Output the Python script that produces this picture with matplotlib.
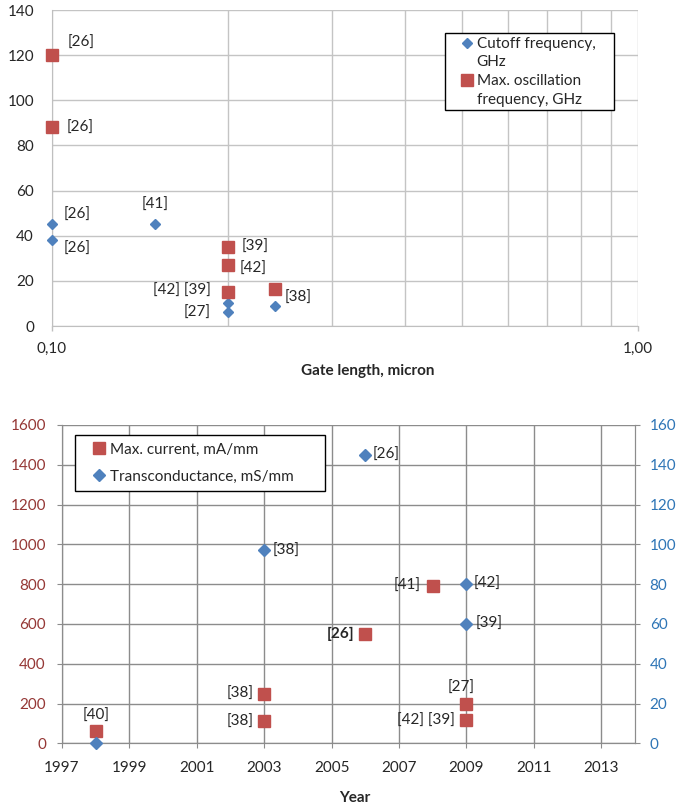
import matplotlib
matplotlib.use("Agg")
import matplotlib.pyplot as plt
from matplotlib.lines import Line2D
from matplotlib.ticker import FixedLocator, FuncFormatter, NullFormatter

plt.rcParams['font.family'] = ['Lato', 'DejaVu Sans']

# ---------------- data: top chart ----------------
fT_gate = [0.10, 0.10, 0.15, 0.20, 0.20, 0.24]
fT_vals = [45, 38, 45, 10, 6, 9]
fT_refs = ['[26]', '[26]', '[41]', '', '[27]', '']

fmax_gate = [0.10, 0.10, 0.20, 0.20, 0.20, 0.24]
fmax_vals = [120, 88, 35, 27, 15, 16.5]
fmax_refs = ['[26]', '[26]', '[39]', '[42]', '[42] [39]', '[38]']

top_yticks = [0, 20, 40, 60, 80, 100, 120, 140]
top_xticks = [0.10, 1.00]

# ---------------- data: bottom chart ----------------
cur_year = [1998, 2003, 2003, 2006, 2008, 2009, 2009]
cur_vals = [60, 250, 110, 550, 790, 200, 115]
cur_refs = ['[40]', '[38]', '[38]', '[26]', '[41]', '[27]', '[42] [39]']

gm_year = [1998, 2003, 2006, 2009, 2009]
gm_vals = [0, 97, 145, 80, 60]
gm_refs = ['', '[38]', '[26]', '[42]', '[39]']

year_ticks = [1997, 1999, 2001, 2003, 2005, 2007, 2009, 2011, 2013]
left_ticks = [0, 200, 400, 600, 800, 1000, 1200, 1400, 1600]
right_ticks = [0, 20, 40, 60, 80, 100, 120, 140, 160]

# label placement (pixels): (dx, dy, ha)
fT_place = [(12, 10, 'left'), (12, -9, 'left'), (0, 20, 'center'), (0, 0, 'left'),
            (-18, 0, 'right'), (0, 0, 'left')]
fmax_place = [(16, 12, 'left'), (15, 0, 'left'), (13, 0, 'left'), (11, -4, 'left'),
              (-18, 1, 'right'), (10, -9, 'left')]
cur_place = [(0, 16, 'center'), (-11, 0, 'right'), (-11, 0, 'right'), (-11, 0, 'right'),
             (-12, 0, 'right'), (-5, 16, 'center'), (-12, 0, 'right')]
gm_place = [(8, 0, 'left'), (8, -1, 'left'), (7, 0, 'left'), (7, 0, 'left'), (9, 0, 'left')]

RED = '#C0504D'
BLUE = '#4F81BD'
TXT = '#262626'
FS = 11

W, H = 679, 808
fig = plt.figure(figsize=(W / 100, H / 100), dpi=100)

# ---------------- top chart ----------------
ax = fig.add_axes([52 / W, (H - 326) / H, 586 / W, 316 / H])
ax.set_xscale('log')
ax.set_xlim(0.1, 1.0)
ax.set_ylim(0, 140)
ax.xaxis.set_major_locator(FixedLocator(top_xticks))
ax.xaxis.set_minor_locator(FixedLocator([0.2, 0.3, 0.4, 0.5, 0.6, 0.7, 0.8, 0.9]))
ax.xaxis.set_major_formatter(FuncFormatter(lambda v, p: f"{v:.2f}".replace('.', ',')))
ax.xaxis.set_minor_formatter(NullFormatter())
ax.set_yticks(top_yticks)
ax.tick_params(axis='x', which='major', length=3.6, width=1, color='#BFBFBF', pad=8,
               labelsize=FS, labelcolor=TXT)
ax.tick_params(axis='x', which='minor', length=0)
ax.tick_params(axis='y', length=0, pad=13, labelsize=FS, labelcolor=TXT)
ax.grid(True, which='both', color='#C4C4C4', linewidth=1)
ax.set_axisbelow(True)
for s in ['top', 'right']:
    ax.spines[s].set_visible(False)
for s in ['left', 'bottom']:
    ax.spines[s].set_color('#BFBFBF')
ax.set_xlabel('Gate length, micron', fontsize=FS, fontweight='bold', color=TXT)
ax.xaxis.set_label_coords(0.539, -0.12)

ax.plot(fT_gate, fT_vals, 'D', color=BLUE, markersize=5.5, linestyle='none', clip_on=False, zorder=3)
ax.plot(fmax_gate, fmax_vals, 's', color=RED, markersize=9, linestyle='none', clip_on=False, zorder=3)

for x, y, t, (dx, dy, ha) in zip(fT_gate, fT_vals, fT_refs, fT_place):
    if t:
        ax.annotate(t, (x, y), xytext=(dx, dy), textcoords='offset pixels',
                    ha=ha, va='center', fontsize=FS, color=TXT)
for x, y, t, (dx, dy, ha) in zip(fmax_gate, fmax_vals, fmax_refs, fmax_place):
    if t:
        ax.annotate(t, (x, y), xytext=(dx, dy), textcoords='offset pixels',
                    ha=ha, va='center', fontsize=FS, color=TXT)

h_top = [Line2D([], [], marker='D', color=BLUE, markersize=5.5, linestyle='none'),
         Line2D([], [], linestyle='none'),
         Line2D([], [], marker='s', color=RED, markersize=9, linestyle='none'),
         Line2D([], [], linestyle='none')]
l_top = ['Cutoff frequency,', 'GHz', 'Max. oscillation', 'frequency, GHz']
leg = ax.legend(h_top, l_top, loc='upper left',
                bbox_to_anchor=(0.671, 0.0, 0.288, 0.927), mode='expand',
                fontsize=FS, frameon=True, fancybox=False, framealpha=1,
                edgecolor='black', labelspacing=0.3, handlelength=2.3,
                handletextpad=-0.5, borderpad=0.25, borderaxespad=0)
leg.get_frame().set_linewidth(1)
for t in leg.get_texts():
    t.set_color(TXT)

# ---------------- bottom chart ----------------
bx = fig.add_axes([62 / W, (H - 743.3) / H, 573 / W, 318.3 / H])
bx.set_xlim(1997, 2014)
bx.set_ylim(0, 1600)
bx.set_xticks(year_ticks)
bx.set_yticks(left_ticks)
bx.grid(True, color='#8C8C8C', linewidth=1)
bx.set_axisbelow(True)
for s in bx.spines.values():
    s.set_color('#8C8C8C')
bx.spines['top'].set_visible(False)
bx.tick_params(axis='y', length=3.6, color='#8C8C8C', labelsize=FS, labelcolor='#953735', pad=8)
bx.tick_params(axis='x', length=3.6, color='#8C8C8C', labelsize=FS, labelcolor=TXT, pad=9)
bx.set_xlabel('Year', fontsize=FS, fontweight='bold', color=TXT)
bx.xaxis.set_label_coords(0.511, -0.15)

bx2 = bx.twinx()
bx2.set_ylim(0, 160)
bx2.set_yticks(right_ticks)
bx2.tick_params(axis='y', length=3.6, color='#8C8C8C', labelsize=FS, labelcolor='#2E75B6', pad=7)
for s in bx2.spines.values():
    s.set_color('#8C8C8C')
bx2.spines['top'].set_visible(False)

bx.plot(cur_year, cur_vals, 's', color=RED, markersize=9, linestyle='none', clip_on=False, zorder=3)
bx2.plot(gm_year, gm_vals, 'D', color=BLUE, markersize=6.5, linestyle='none', clip_on=False, zorder=3)

for x, y, t, (dx, dy, ha) in zip(cur_year, cur_vals, cur_refs, cur_place):
    if t:
        bx.annotate(t, (x, y), xytext=(dx, dy), textcoords='offset pixels',
                    ha=ha, va='center', fontsize=FS, color=TXT,
                    fontweight='bold' if (x == 2006) else 'normal')
for x, y, t, (dx, dy, ha) in zip(gm_year, gm_vals, gm_refs, gm_place):
    if t:
        bx2.annotate(t, (x, y), xytext=(dx, dy), textcoords='offset pixels',
                     ha=ha, va='center', fontsize=FS, color=TXT)

h_bot = [Line2D([], [], marker='s', color=RED, markersize=9, linestyle='none'),
         Line2D([], [], marker='D', color=BLUE, markersize=6.5, linestyle='none')]
l_bot = ['Max. current, mA/mm', 'Transconductance, mS/mm']
leg2 = bx2.legend(h_bot, l_bot, loc='upper left',
                  bbox_to_anchor=(0.0227, 0.0, 0.436, 0.9686), mode='expand',
                  fontsize=FS, frameon=True, fancybox=False, framealpha=1,
                  edgecolor='black', labelspacing=0.85, handlelength=2.2,
                  handletextpad=-0.4, borderpad=0.5, borderaxespad=0)
leg2.get_frame().set_linewidth(1)
for t in leg2.get_texts():
    t.set_color(TXT)

fig.savefig('out.png', dpi=100)
